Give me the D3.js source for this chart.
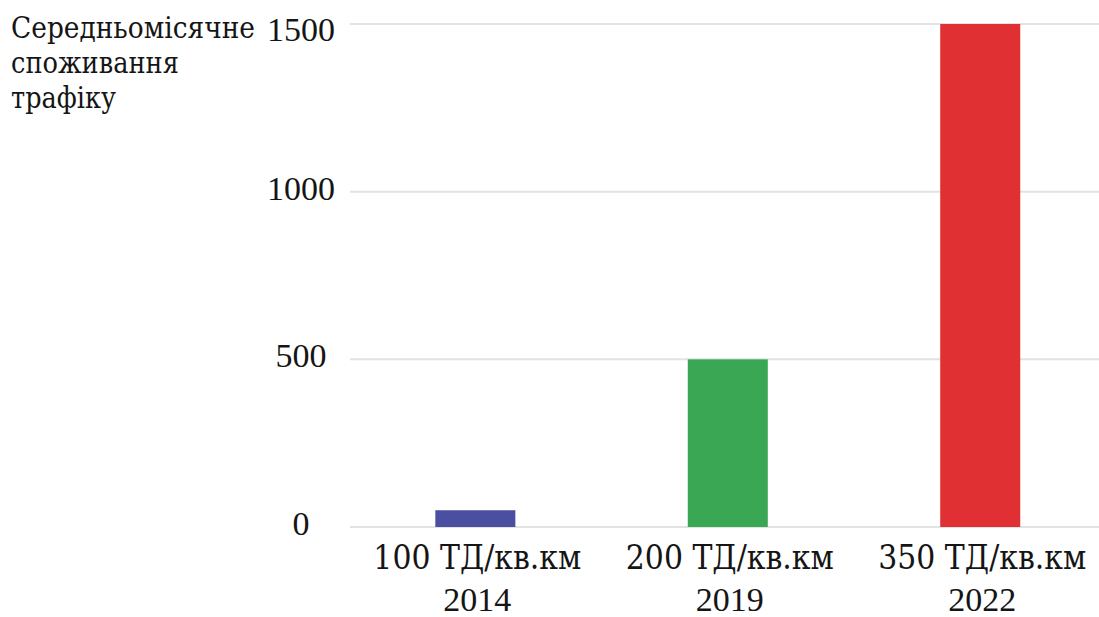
<!DOCTYPE html>
<html>
<head>
<meta charset="utf-8">
<script src="https://cdn.jsdelivr.net/npm/d3@7"></script>
<style>
  html, body { margin: 0; padding: 0; background: #fff; }
  svg { display: block; }
</style>
</head>
<body>
<svg id="chart" width="1099" height="617"></svg>
<script>
// Monthly average traffic consumption by base-station density and year
const densities = ["100 ТД/кв.км", "200 ТД/кв.км", "350 ТД/кв.км"];
const years = ["2014", "2019", "2022"];
const traffic = [50, 500, 1500];
const barColors = ["#4a4fa1", "#3aa755", "#e03034"];
const yTicks = [0, 500, 1000, 1500];
const yTitle = ["Середньомісячне", "споживання", "трафіку"];

const FONT = "'Liberation Serif', 'Times New Roman', serif";
const CYR_FONT = "'DejaVu Serif', serif";
const INK = "#151515";

const svg = d3.select("#chart");

// squeeze a text horizontally so that it spans the given width
function fitWidth(sel, px, py, width) {
  sel.each(function (d, i) {
    const node = this;
    const natural = node.getComputedTextLength();
    const w = typeof width === "function" ? width(d, i) : width;
    const s = natural > 0 ? w / natural : 1;
    d3.select(node)
      .attr("x", 0)
      .attr("y", 0)
      .attr("transform", `translate(${px(d, i)},${py(d, i)}) scale(${s},1)`);
  });
}

const x = d3.scaleBand()
  .domain(years)
  .range([350, 1099])
  .paddingInner(0.683)
  .paddingOuter(0.325)
  .align(0.52);

const y = d3.scaleLinear()
  .domain([0, 1500])
  .range([527, 24]);

// horizontal grid lines
svg.append("g")
  .selectAll("line")
  .data(yTicks)
  .join("line")
  .attr("x1", 350)
  .attr("x2", 1099)
  .attr("y1", d => y(d))
  .attr("y2", d => y(d))
  .attr("stroke", "#e3e3e3")
  .attr("stroke-width", 2);

// y axis tick labels, centred in the gutter and kept inside the top edge
const yAxis = d3.axisLeft(y).tickValues(yTicks).tickFormat(d3.format("d")).tickSize(0).tickPadding(0);
const yg = svg.append("g").attr("transform", "translate(301,0)").call(yAxis)
  .attr("font-family", FONT);
yg.select(".domain").remove();
yg.selectAll(".tick").attr("transform", d => `translate(0,${Math.max(y(d) + 8, 41)})`);
yg.selectAll("text")
  .attr("text-anchor", "middle")
  .attr("x", 0)
  .attr("y", 0)
  .attr("dy", 0)
  .attr("font-family", FONT)
  .attr("font-size", 34)
  .attr("fill", INK);

// bars
svg.append("g")
  .selectAll("rect")
  .data(traffic)
  .join("rect")
  .attr("x", (d, i) => x(years[i]))
  .attr("width", x.bandwidth())
  .attr("y", d => y(d))
  .attr("height", d => y(0) - y(d))
  .attr("fill", (d, i) => barColors[i]);

// category labels: density on the first line, year below
const cx = d => x(d) + x.bandwidth() / 2 + 2;
const catG = svg.append("g")
  .attr("font-family", FONT)
  .attr("fill", INK)
  .attr("text-anchor", "middle");
catG.selectAll("text.density")
  .data(years)
  .join("text")
  .attr("class", "density")
  .attr("font-size", 34)
  .attr("font-family", CYR_FONT)
  .text((d, i) => densities[i])
  .call(fitWidth, cx, () => 569, 208);
catG.selectAll("text.year")
  .data(years)
  .join("text")
  .attr("class", "year")
  .attr("x", cx)
  .attr("y", 611)
  .attr("font-size", 34)
  .text(d => d);

// axis title
const titleWidths = [244, 168, 105];
svg.append("g")
  .attr("font-family", CYR_FONT)
  .attr("font-size", 29)
  .attr("fill", INK)
  .selectAll("text")
  .data(yTitle)
  .join("text")
  .text(d => d)
  .call(fitWidth, () => 11, (d, i) => 38 + i * 35, (d, i) => titleWidths[i]);
</script>
</body>
</html>
